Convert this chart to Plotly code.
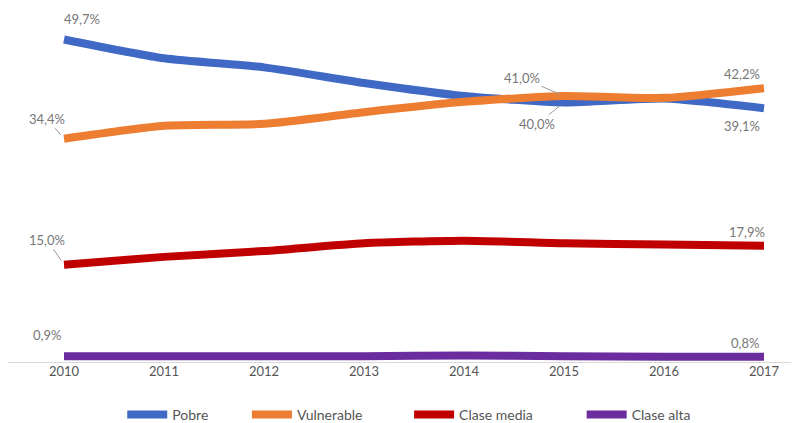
import plotly.graph_objects as go

years = [2010, 2011, 2012, 2013, 2014, 2015, 2016, 2017]
pobre = [49.7, 46.8, 45.4, 43.0, 41.0, 40.0, 40.6, 39.1]
vulnerable = [34.4, 36.4, 36.7, 38.5, 40.1, 41.0, 40.7, 42.2]
clase_media = [15.0, 16.2, 17.1, 18.3, 18.7, 18.3, 18.1, 17.9]
clase_alta = [0.9, 0.9, 0.9, 0.9, 1.0, 0.9, 0.8, 0.8]

names = ["Pobre", "Vulnerable", "Clase media", "Clase alta"]
colors = ["#3F69C5", "#ED7D31", "#C00000", "#6A2C9E"]
series = [pobre, vulnerable, clase_media, clase_alta]
legend_ids = ["legend", "legend2", "legend3", "legend4"]
legend_x = [0.143, 0.299, 0.502, 0.718]

FONT = "Lato"
fig = go.Figure()
for nm, col, vals, lid in zip(names, colors, series, legend_ids):
    fig.add_trace(go.Scatter(
        x=years, y=vals, name=nm, mode="lines", legend=lid,
        line=dict(color=col, width=8, shape="spline", smoothing=0.6),
    ))

def fmt(v):
    return f"{v:.1f}%".replace(".", ",")

lab_color = "#777777"
# (series, index, xshift, yshift, arrow)
labels = [
    (pobre, 0, 18, 20, None),
    (vulnerable, 0, None, None, (-17, -20)),
    (vulnerable, 5, None, None, (-42, -18)),
    (pobre, 5, None, None, (-27, 22)),
    (vulnerable, 7, -22, 14, None),
    (pobre, 7, -22, -18, None),
    (clase_media, 0, None, None, (-17, -25)),
    (clase_media, 7, -17, 14, None),
    (clase_alta, 0, -17, 21, None),
    (clase_alta, 7, -19, 14, None),
]
for vals, i, xs, ys, arr in labels:
    if arr is None:
        fig.add_annotation(x=years[i], y=vals[i], text=fmt(vals[i]), showarrow=False,
                           xshift=xs, yshift=ys,
                           font=dict(family=FONT, size=13, color=lab_color))
    else:
        fig.add_annotation(x=years[i], y=vals[i], text=fmt(vals[i]), showarrow=True,
                           ax=arr[0], ay=arr[1], arrowhead=0, arrowwidth=1,
                           arrowcolor="#9a9a9a", standoff=5,
                           font=dict(family=FONT, size=13, color=lab_color))

legend_style = dict(orientation="h", xanchor="left", y=-0.155, yanchor="middle",
                    font=dict(family=FONT, size=14, color="#555555"),
                    itemwidth=40, bgcolor="rgba(0,0,0,0)")

fig.update_layout(
    width=799, height=423,
    margin=dict(l=0, r=0, t=12, b=65),
    plot_bgcolor="white", paper_bgcolor="white",
    font=dict(family=FONT, size=12, color="#555555"),
    xaxis=dict(range=[2009.44, 2017.43], tickvals=years, ticktext=[str(y) for y in years],
               showgrid=False, zeroline=False, showline=False, ticks="",
               tickfont=dict(family=FONT, size=13, color="#555555")),
    yaxis=dict(range=[0, 52.7], showgrid=False, zeroline=True, zerolinecolor="#d9d9d9",
               zerolinewidth=1, showticklabels=False, showline=False),
    legend=dict(x=legend_x[0], **legend_style),
    legend2=dict(x=legend_x[1], **legend_style),
    legend3=dict(x=legend_x[2], **legend_style),
    legend4=dict(x=legend_x[3], **legend_style),
    showlegend=True,
)

fig.write_html("out.html")
